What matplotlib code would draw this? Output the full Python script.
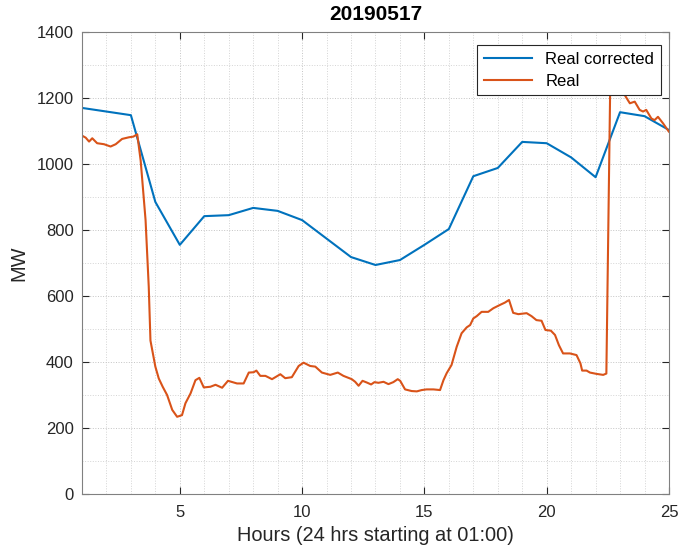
import numpy as np
import matplotlib.pyplot as plt
from matplotlib.ticker import MultipleLocator

# hourly corrected values (hour 1..25)
hours_corr = list(range(1, 26))
mw_corr = [1170, 1159, 1148, 885, 755, 842, 845, 867, 858, 830,
           774, 718, 694, 709, 755, 803, 963, 988, 1067, 1063,
           1020, 960, 1157, 1145, 1103]

hours_real = [1.0, 1.15, 1.29, 1.42, 1.62, 1.9, 2.17, 2.38, 2.64, 2.92,
              3.1, 3.26, 3.4, 3.6, 3.73, 3.8, 4.0, 4.14, 4.3, 4.48,
              4.69, 4.89, 5.09, 5.23, 5.44, 5.64, 5.8, 5.98, 6.25, 6.46,
              6.73, 6.97, 7.34, 7.61, 7.82, 8.02, 8.13, 8.29, 8.5, 8.77,
              9.11, 9.31, 9.58, 9.86, 10.06, 10.33, 10.54, 10.81, 11.15, 11.46,
              11.69, 12.03, 12.17, 12.31, 12.47, 12.64, 12.82, 12.96, 13.12, 13.33,
              13.53, 13.73, 13.91, 14.01, 14.21, 14.48, 14.69, 14.89, 15.09, 15.37,
              15.64, 15.78, 15.91, 16.11, 16.32, 16.52, 16.73, 16.87, 17.0, 17.14,
              17.34, 17.61, 17.82, 18.09, 18.29, 18.46, 18.63, 18.84, 19.18, 19.38,
              19.58, 19.79, 19.95, 20.17, 20.34, 20.5, 20.67, 20.95, 21.22, 21.38,
              21.45, 21.63, 21.77, 22.04, 22.31, 22.44, 22.6, 22.8, 23.0, 23.19,
              23.4, 23.6, 23.8, 23.94, 24.07, 24.28, 24.41, 24.55, 24.76, 24.9,
              25.0]
mw_real = [1086, 1080, 1068, 1078, 1063, 1060, 1053, 1060, 1076, 1081,
           1083, 1090, 1010, 830, 628, 465, 386, 350, 325, 300,
           255, 234, 239, 275, 305, 345, 352, 323, 325, 331,
           322, 343, 335, 335, 368, 369, 374, 358, 358, 348,
           363, 351, 354, 388, 398, 388, 386, 368, 361, 368,
           358, 348, 340, 328, 343, 338, 332, 339, 337, 340,
           333, 339, 348, 343, 317, 312, 311, 315, 317, 317,
           315, 345, 366, 391, 446, 487, 505, 512, 532, 539,
           552, 552, 563, 573, 580, 588, 549, 545, 548, 539,
           527, 525, 497, 495, 482, 451, 426, 426, 421, 396,
           374, 374, 368, 364, 361, 365, 1250, 1255, 1225, 1209,
           1184, 1189, 1164, 1159, 1164, 1138, 1133, 1143, 1123, 1108,
           1098]

plt.rcParams['font.family'] = ['Liberation Sans', 'DejaVu Sans']

fig = plt.figure(figsize=(6.82, 5.5), dpi=100)
ax = fig.add_axes([0.1202, 0.1018, 0.8607, 0.84])

ax.plot(hours_corr, mw_corr, color='#0072BD', linewidth=1.5, label='Real corrected')
ax.plot(hours_real, mw_real, color='#D95319', linewidth=1.5, label='Real')

ax.set_xlim(1, 25)
ax.set_ylim(0, 1400)
ax.xaxis.set_major_locator(MultipleLocator(5))
ax.xaxis.set_minor_locator(MultipleLocator(1))
ax.yaxis.set_major_locator(MultipleLocator(200))
ax.yaxis.set_minor_locator(MultipleLocator(100))

ax.grid(True, which='major', linestyle=':', color='#c4c4c4', linewidth=0.7)
ax.grid(True, which='minor', linestyle=':', color='#d4d4d4', linewidth=0.7)
ax.set_axisbelow(True)

ax.tick_params(which='both', direction='in', top=True, right=True, colors='#262626',
               labelsize=12)
ax.tick_params(which='major', length=5)
ax.tick_params(axis='y', pad=6)
ax.tick_params(axis='x', pad=8)
ax.tick_params(which='minor', length=0)
for s in ax.spines.values():
    s.set_color('#808080')
    s.set_linewidth(0.8)

ax.set_title('20190517', fontsize=15, fontweight='bold', color='#000000', pad=9)
ax.set_xlabel('Hours (24 hrs starting at 01:00)', fontsize=14.4, color='#262626',
              labelpad=4)
ax.set_ylabel('MW', fontsize=14.4, color='#262626', labelpad=6)

leg = ax.legend(loc='upper right', bbox_to_anchor=(0.9864, 0.9719), borderaxespad=0,
                fontsize=12, fancybox=False, framealpha=1, edgecolor='#262626',
                handlelength=2.9, handletextpad=0.8, borderpad=0.4, labelspacing=0.42)
leg.get_frame().set_linewidth(0.8)

fig.savefig('out.png', dpi=100)
